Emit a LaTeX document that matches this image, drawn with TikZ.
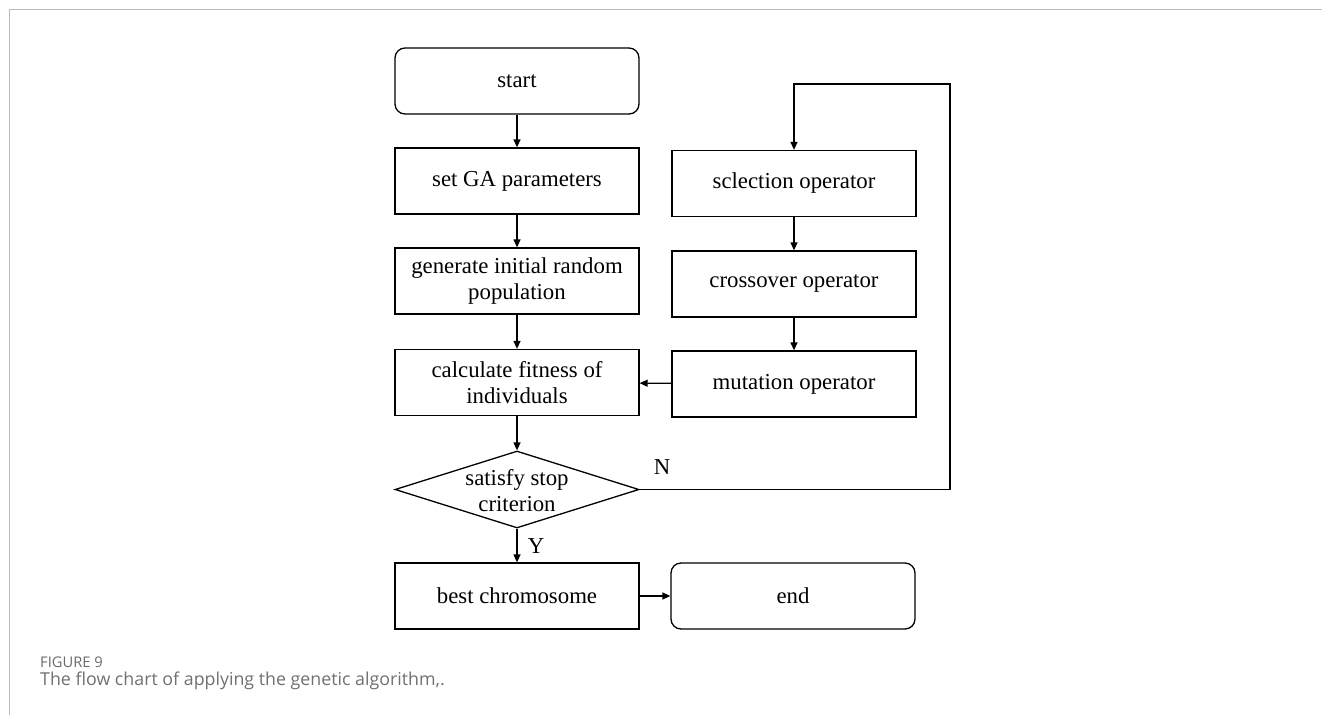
\documentclass[tikz,border=0pt]{standalone}
\usepackage{fontspec}
\setmainfont{Liberation Serif}
\newfontfamily\capfont{Open Sans}
\usetikzlibrary{shapes.geometric,arrows.meta}
\definecolor{framegray}{HTML}{BBBBBB}
\definecolor{capgray}{HTML}{707070}
\definecolor{figgray}{HTML}{6A6A6A}
\begin{document}
\begin{tikzpicture}[x=1pt,y=-1pt,
  every node/.style={font=\fontsize{22.8}{26}\selectfont},
  procbox/.style={draw, line width=1.3pt, minimum width=244pt, minimum height=66pt, inner sep=0pt, align=center},
  termbox/.style={procbox, rounded corners=10pt},
  decbox/.style={draw, line width=1.3pt, diamond, minimum width=244pt, minimum height=77pt, inner sep=0pt, aspect=3.17},
  flow/.style={line width=1.3pt, -{Triangle[length=8pt,width=7pt]}}]
\useasboundingbox (0,0) rectangle (1322,715);
\draw[framegray, line width=1pt] (9,715) -- (9,9) -- (1322,9);
% left column
\node[termbox] (start) at (517,81) {start};
\node[procbox] (setga) at (517,181) {set GA parameters};
\node[procbox] (gen) at (517,281) {generate initial random\\population};
\node[procbox] (calc) at (517,382.5) {calculate fitness of\\individuals};
\node[decbox] (dec) at (517,489.5) {};
\node[align=center, inner sep=0pt] (dect) at (517,491) {satisfy stop\\criterion};
\node[procbox] (best) at (517,596) {best chromosome};
\node[termbox] (end) at (793,596) {end};
% right column
\node[procbox] (sel) at (794,183.5) {sclection operator};
\node[procbox] (cross) at (794,284) {crossover operator};
\node[procbox] (mut) at (794,384) {mutation operator};
% connectors
\draw[flow] (start) -- (setga);
\draw[flow] (setga) -- (gen);
\draw[flow] (gen) -- (calc);
\draw[flow] (calc) -- (dec);
\draw[flow] (dec) -- (best);
\draw[flow] (best) -- (end);
\draw[flow] (sel) -- (cross);
\draw[flow] (cross) -- (mut);
\draw[flow] (mut) -- (calc);
\coordinate (loopbr) at (950,489.5);
\coordinate (looptr) at (950,84);
\draw[flow] (dec.east) -- (loopbr) -- (looptr) -- (looptr -| sel.north) -- (sel.north);
\node (nlab) at (662,467) {N};
\node (ylab) at (536,546) {Y};
% caption
\node[anchor=base west, inner sep=0pt, text=figgray, font=\capfont\fontsize{14.7}{17}\selectfont] (fig) at (40,667) {FIGURE 9};
\node[anchor=base west, inner sep=0pt, text=capgray, font=\capfont\fontsize{17.8}{20}\selectfont] (cap) at (40,685) {The flow chart of applying the genetic algorithm,.};
\end{tikzpicture}
\end{document}
